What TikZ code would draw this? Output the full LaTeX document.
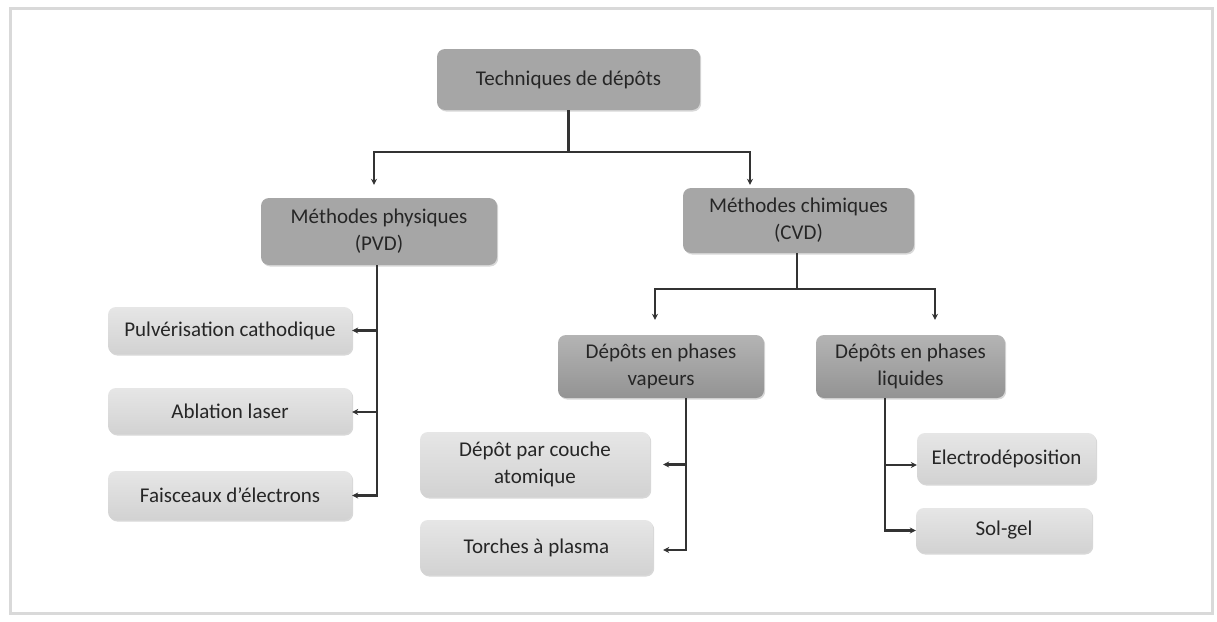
\documentclass[tikz,border=0pt]{standalone}
\usepackage{fontspec}
\setmainfont{Carlito}
\usetikzlibrary{arrows.meta,shadows}
\definecolor{linec}{HTML}{333333}
\definecolor{txtc}{HTML}{262626}
\definecolor{darkbox}{HTML}{A6A6A6}
\definecolor{lighttop}{HTML}{E6E6E6}
\definecolor{lightbot}{HTML}{D2D2D2}
\definecolor{midtop}{HTML}{B4B4B4}
\definecolor{midbot}{HTML}{939393}
\tikzset{
  x=1pt,y=-1pt,
  basebox/.style={rounded corners=8pt, align=center, text=txtc, inner sep=2pt,
    font=\fontsize{21}{27}\selectfont,
    drop shadow={shadow xshift=1.2pt, shadow yshift=-1.5pt, opacity=0.25, fill=black!60}},
  darkboxst/.style={basebox, fill=darkbox},
  midboxst/.style={basebox, top color=midtop, bottom color=midbot},
  lightboxst/.style={basebox, top color=lighttop, bottom color=lightbot},
  conn/.style={draw=linec, line width=2.2pt},
  arr/.style={conn, -{Stealth[length=6pt,width=6pt]}},
}
\begin{document}
\begin{tikzpicture}
\useasboundingbox (0,0) rectangle (1217,621);
\fill[white] (0,0) rectangle (1217,621);
\draw[black!15, line width=3pt] (10,8) rectangle (1212,613);

% nodes
\node[darkboxst, minimum width=263pt, minimum height=61pt] (top) at (568.5,79.5) {Techniques de dépôts};
\node[darkboxst, minimum width=236pt, minimum height=67pt] (pvd) at (379,231.5) {Méthodes physiques\\(PVD)};
\node[darkboxst, minimum width=231pt, minimum height=65pt] (cvd) at (798.5,220.5) {Méthodes chimiques\\(CVD)};
\node[lightboxst, minimum width=244pt, minimum height=47pt] (pulv) at (230,330.5) {Pulvérisation cathodique};
\node[lightboxst, minimum width=244pt, minimum height=46pt] (abl) at (230,411) {Ablation laser};
\node[lightboxst, minimum width=244pt, minimum height=49pt] (fais) at (230,495.5) {Faisceaux d’électrons};
\node[midboxst, minimum width=206pt, minimum height=63pt] (vap) at (661,366.5) {Dépôts en phases\\vapeurs};
\node[midboxst, minimum width=189pt, minimum height=63pt] (liq) at (910.5,366.5) {Dépôts en phases\\liquides};
\node[lightboxst, minimum width=230pt, minimum height=65pt] (couche) at (535,464.5) {Dépôt par couche\\atomique};
\node[lightboxst, minimum width=233pt, minimum height=55pt] (torch) at (536.5,547.5) {Torches à plasma};
\node[lightboxst, minimum width=179pt, minimum height=51pt] (electro) at (1006.5,458.5) {Electrodéposition};
\node[lightboxst, minimum width=176pt, minimum height=45pt] (solgel) at (1004,530.5) {Sol-gel};

% top level
\draw[conn] (top.south) -- ++(0,42) coordinate (j1);
\draw[arr, shorten >=13pt] (j1) -| ([xshift=-5pt]pvd.north);
\draw[arr, shorten >=3pt] (j1) -| ([xshift=-48.5pt]cvd.north);

% PVD branch
\coordinate (tp) at ([xshift=-2pt]pvd.south);
\draw[arr] (tp) |- (pulv.east);
\draw[arr] (tp) |- ([yshift=-1pt]abl.east);
\draw[arr] (tp) |- (fais.east);

% CVD branch
\draw[conn] ([xshift=-1.5pt]cvd.south) -- ++(0,36) coordinate (j2);
\draw[arr, shorten >=15pt] (j2) -| ([xshift=-6pt]vap.north);
\draw[arr, shorten >=15pt] (j2) -| ([xshift=24.5pt]liq.north);

% vapeurs branch
\coordinate (tv) at ([xshift=25pt]vap.south);
\draw[arr, shorten >=13pt] (tv) |- (couche.east);
\draw[arr, shorten >=10pt] (tv) |- ([yshift=-2.5pt]torch.east);

% liquides branch
\coordinate (tl) at ([xshift=-25.5pt]liq.south);
\draw[arr] (tl) |- ([yshift=-6.5pt]electro.west);
\draw[arr] (tl) |- (solgel.west);
\end{tikzpicture}
\end{document}
